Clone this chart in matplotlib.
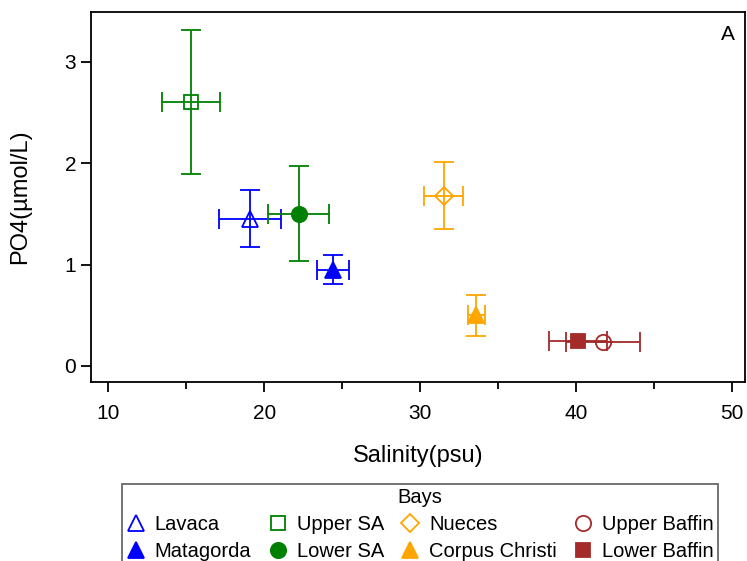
import matplotlib.pyplot as plt
from matplotlib.lines import Line2D

plt.rcParams['font.family'] = ['Liberation Sans', 'DejaVu Sans']

# bay means and standard deviations
bays = ["Lavaca", "Matagorda", "Upper SA", "Lower SA",
        "Nueces", "Corpus Christi", "Upper Baffin", "Lower Baffin"]
salinity = [19.1, 24.4, 15.3, 22.2, 31.5, 33.6, 41.7, 40.1]
salinity_sd = [2.0, 1.05, 1.85, 1.95, 1.25, 0.55, 2.38, 1.85]
po4 = [1.45, 0.95, 2.60, 1.50, 1.68, 0.50, 0.24, 0.25]
po4_sd = [0.28, 0.14, 0.71, 0.47, 0.33, 0.20, 0.0, 0.0]

colors = ["blue", "blue", "green", "green", "orange", "orange", "brown", "brown"]
markers = ["^", "^", "s", "o", "D", "^", "o", "s"]
filled = [False, True, False, True, False, True, False, True]
sizes = [11, 11, 10, 11, 9, 11, 11, 10]

fig = plt.figure(figsize=(7.47, 5.61), dpi=100)
ax = fig.add_axes([0.1214, 0.3196, 0.8756, 0.6584])

handles = []
for i, name in enumerate(bays):
    face = colors[i] if filled[i] else "none"
    ax.errorbar(salinity[i], po4[i], xerr=salinity_sd[i], yerr=po4_sd[i],
                fmt=markers[i], color=colors[i], mfc=face, mec=colors[i],
                ms=sizes[i], mew=1.3, elinewidth=1.3, capsize=7, capthick=1.3)
    handles.append(Line2D([], [], ls="none", marker=markers[i], color=colors[i],
                          mfc=face, mec=colors[i], ms=sizes[i], mew=1.3,
                          label=name))

ax.set_xlim(8.87, 50.8)
ax.set_ylim(-0.155, 3.485)
ax.set_xticks([10, 20, 30, 40, 50])
ax.set_xticks([15, 25, 35, 45], minor=True)
ax.set_yticks([0, 1, 2, 3])
ax.tick_params(axis="both", which="major", labelsize=15, length=7, width=1.3)
ax.tick_params(axis="x", which="major", pad=9)
ax.tick_params(axis="x", which="minor", length=5, width=1.3)
for s in ax.spines.values():
    s.set_linewidth(1.3)

ax.set_xlabel("Salinity(psu)", fontsize=17, labelpad=16)
ax.set_ylabel("PO4(µmol/L)", fontsize=17, labelpad=24)
ax.text(0.985, 0.965, "A", transform=ax.transAxes, ha="right", va="top", fontsize=15)

leg = fig.legend(handles=handles, ncol=4, loc="upper center",
                 bbox_to_anchor=(0.562, 0.138), borderaxespad=0, title="Bays",
                 fontsize=14.5, title_fontsize=14.5, frameon=True, fancybox=False,
                 edgecolor="#444444", handlelength=1.0, handletextpad=0.45,
                 columnspacing=0.8, labelspacing=0.4, borderpad=0.2)
leg.get_frame().set_linewidth(1.3)

fig.savefig("out.png", dpi=100)
